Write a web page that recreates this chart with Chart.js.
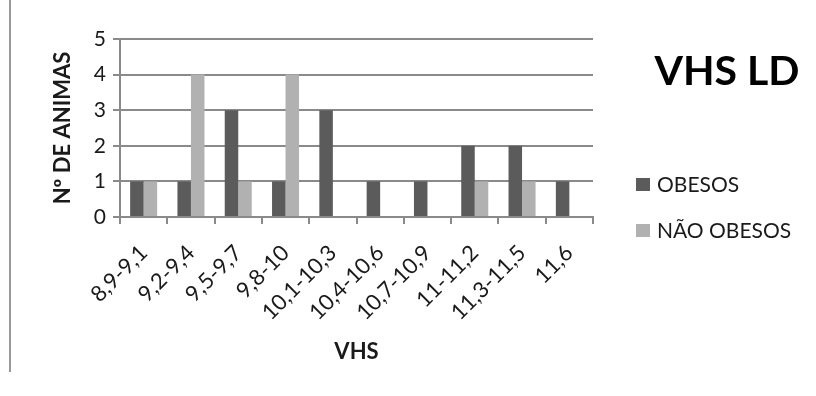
<!DOCTYPE html>
<html>
<head>
<meta charset="utf-8">
<script src="https://cdn.jsdelivr.net/npm/chart.js@4.4.1/dist/chart.umd.min.js"></script>
<style>
  html, body { margin: 0; padding: 0; background: #fff; }
  #wrap { position: relative; width: 816px; height: 396px; }
  #edge { position: absolute; left: 9px; top: 0; width: 2px; height: 372px; background: #9a9a9a; }
  canvas { position: absolute; left: 0; top: 0; }
</style>
</head>
<body>
<div id="wrap">
  <div id="edge"></div>
  <canvas id="c" width="816" height="396"></canvas>
</div>
<script>
const categories = ['8,9-9,1', '9,2-9,4', '9,5-9,7', '9,8-10', '10,1-10,3', '10,4-10,6', '10,7-10,9', '11-11,2', '11,3-11,5', '11,6'];
const obesos = [1, 1, 3, 1, 3, 1, 1, 2, 2, 1];
const naoObesos = [1, 4, 1, 4, 0, 0, 0, 1, 1, 0];
const yTicks = [0, 1, 2, 3, 4, 5];
const seriesNames = ['OBESOS', 'NÃO OBESOS'];
const chartTitle = 'VHS LD';
const xTitle = 'VHS';
const yTitle = 'Nº DE ANIMAS';

const FONT = 'Lato, "Liberation Sans", sans-serif';
const TEXT = '#1a1a1a';

// Title and legend on the right-hand side, built from the dataset labels/colours
const sidePanel = {
  id: 'sidePanel',
  afterDraw(chart) {
    const ctx = chart.ctx;
    ctx.save();
    ctx.fillStyle = '#000';
    ctx.font = 'bold 41px ' + FONT;
    ctx.textAlign = 'center';
    ctx.textBaseline = 'middle';
    ctx.fillText(chartTitle, 727, 72);

    ctx.font = '21px ' + FONT;
    ctx.textAlign = 'left';
    chart.data.datasets.forEach((ds, i) => {
      const y = 185 + i * 46;
      ctx.fillStyle = ds.backgroundColor;
      ctx.fillRect(636, y - 7, 14, 13);
      ctx.fillStyle = TEXT;
      ctx.fillText(ds.label, 657, y);
    });
    ctx.restore();
  }
};

new Chart(document.getElementById('c'), {
  type: 'bar',
  data: {
    labels: categories,
    datasets: [
      { label: seriesNames[0], data: obesos, backgroundColor: '#5b5b5b', categoryPercentage: 0.571, barPercentage: 1 },
      { label: seriesNames[1], data: naoObesos, backgroundColor: '#b1b1b1', categoryPercentage: 0.571, barPercentage: 1 }
    ]
  },
  options: {
    responsive: false,
    animation: false,
    layout: { padding: { left: 0, right: 223, top: 39, bottom: 0 } },
    plugins: { legend: { display: false }, tooltip: { enabled: false } },
    scales: {
      x: {
        afterFit(s) { s.height = 179; },
        grid: { offset: true, drawOnChartArea: false, drawTicks: true, tickLength: 7, color: '#8a8a8a', lineWidth: 2 },
        border: { display: true, color: '#8a8a8a', width: 2 },
        ticks: { color: TEXT, font: { family: FONT, size: 22 }, maxRotation: 45, minRotation: 45, padding: 16, autoSkip: false },
        title: { display: true, text: xTitle, color: TEXT, font: { family: FONT, size: 22, weight: 'bold' }, padding: { top: 0, bottom: 31 } }
      },
      y: {
        min: 0, max: 5,
        afterFit(s) { s.width = 120; },
        afterBuildTicks(s) { s.ticks = yTicks.map(v => ({ value: v })); },
        grid: { color: '#8a8a8a', lineWidth: 2, tickLength: 7 },
        border: { display: true, color: '#8a8a8a', width: 2 },
        ticks: { color: TEXT, font: { family: FONT, size: 21 }, padding: 7 },
        title: { display: true, text: yTitle, color: TEXT, font: { family: FONT, size: 22, weight: 'bold' }, padding: { top: 50, bottom: 0 } }
      }
    }
  },
  plugins: [sidePanel]
});
</script>
</body>
</html>
